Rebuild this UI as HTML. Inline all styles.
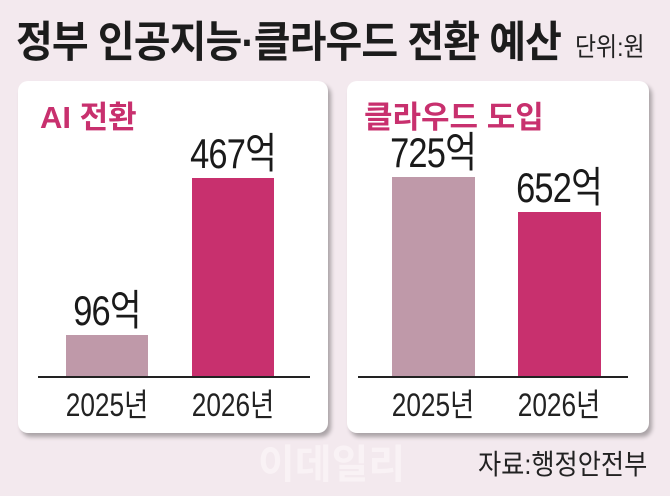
<!DOCTYPE html>
<html><head><meta charset="utf-8"><style>
body{margin:0;width:670px;height:496px;background:#f3e9ee;position:relative;overflow:hidden;font-family:"Liberation Sans","Noto Sans CJK KR",sans-serif;}
.a{position:absolute;white-space:nowrap;}
.panel{position:absolute;background:#fff;border-radius:10px;box-shadow:3px 4px 4px rgba(0,0,0,0.3);}
.pt{color:#c8306e;font-weight:bold;font-size:31px;}
.bar{position:absolute;}
.v{font-size:42px;color:#1a1a1a;transform:scaleX(0.82);transform-origin:center;text-align:center;width:160px;letter-spacing:-1px;}
.x{font-size:32px;color:#222;transform:scaleX(0.82);text-align:center;width:160px;}
</style></head><body>
<div class="a" style="left:16px;top:8px;font-size:43px;font-weight:bold;color:#1c1c1c;letter-spacing:-1px;transform:scaleX(0.93);transform-origin:left;">정부 인공지능·클라우드 전환 예산</div>
<div class="a" style="left:575px;top:27px;font-size:26px;color:#222;transform:scaleX(0.88);transform-origin:left;">단위:원</div>

<div class="panel" style="left:18px;top:81px;width:310px;height:352px;"></div>
<div class="panel" style="left:347px;top:81px;width:302px;height:352px;"></div>

<div class="a pt" style="left:40px;top:92px;">AI 전환</div>
<div class="a pt" style="left:364px;top:92px;">클라우드 도입</div>

<div class="bar" style="left:66px;top:335px;width:82px;height:42px;background:#bf99a9;"></div>
<div class="bar" style="left:192px;top:178px;width:82px;height:199px;background:#c8306e;"></div>
<div class="bar" style="left:392px;top:177px;width:83px;height:200px;background:#bf99a9;"></div>
<div class="bar" style="left:518px;top:212px;width:83px;height:165px;background:#c8306e;"></div>
<div class="bar" style="left:38px;top:376px;width:272px;height:2px;background:#222;"></div>
<div class="bar" style="left:358px;top:376px;width:270px;height:2px;background:#222;"></div>

<div class="a v" style="left:27px;top:277px;">96억</div>
<div class="a v" style="left:153px;top:120px;">467억</div>
<div class="a v" style="left:353px;top:119px;">725억</div>
<div class="a v" style="left:479px;top:154px;">652억</div>

<div class="a x" style="left:27px;top:380px;">2025년</div>
<div class="a x" style="left:153px;top:380px;">2026년</div>
<div class="a x" style="left:353px;top:380px;">2025년</div>
<div class="a x" style="left:479px;top:380px;">2026년</div>

<div class="a" style="left:258px;top:432px;font-size:40px;font-weight:bold;color:#f9f2f5;">이데일리</div>
<div class="a" style="left:478px;top:443px;font-size:28px;color:#222;transform:scaleX(0.9);transform-origin:left;">자료:행정안전부</div>
</body></html>
